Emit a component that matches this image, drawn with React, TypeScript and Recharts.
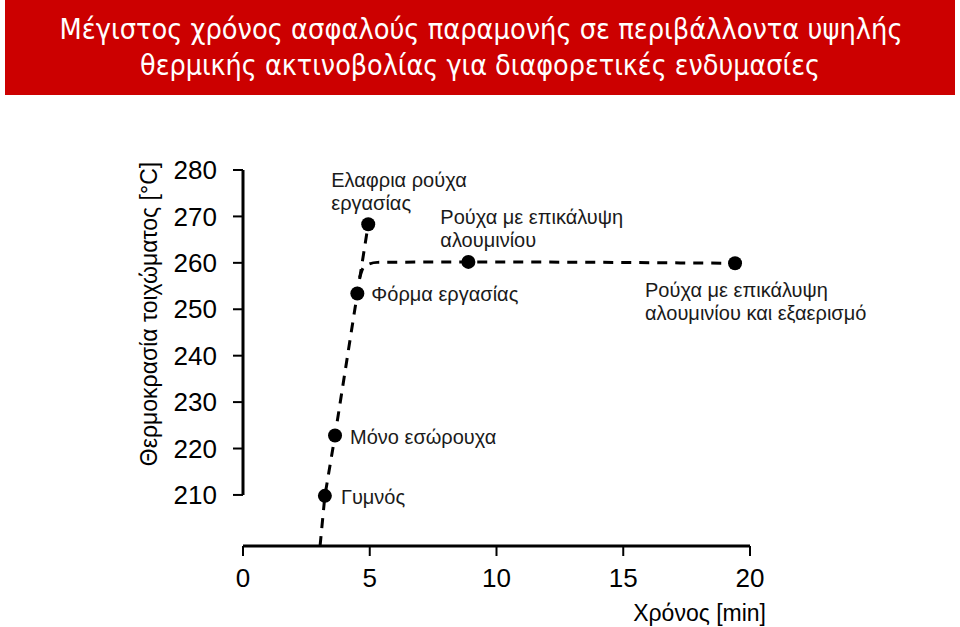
import React from "react";
import {
  ComposedChart,
  Line,
  Scatter,
  XAxis,
  YAxis,
  ReferenceLine,
} from "recharts";

// garments (label lines) and the measured points
const garmentLabels = [
  ["Γυμνός"],
  ["Μόνο εσώρουχα"],
  ["Φόρμα εργασίας"],
  ["Ελαφρια ρούχα", "εργασίας"],
  ["Ρούχα με επικάλυψη", "αλουμινίου"],
  ["Ρούχα με επικάλυψη", "αλουμινίου και εξαερισμό"],
];
const timeMin = [3.23, 3.63, 4.51, 4.94, 8.89, 19.41];
const wallTemp = [209.8, 222.8, 253.4, 268.3, 260.2, 259.9];

// dashed guide curves
const riseX = [3.04, 3.23, 3.63, 4.51, 4.94];
const riseY = [199, 209.8, 222.8, 253.4, 268.3];
const plateauX = [4.6, 4.78, 5.3, 8.89, 19.41];
const plateauY = [256.8, 259.2, 260.1, 260.2, 259.9];

const xTicks = [0, 5, 10, 15, 20];
const yTicks = [210, 220, 230, 240, 250, 260, 270, 280];

const titleLines = [
  "Μέγιστος χρόνος ασφαλούς παραμονής σε περιβάλλοντα υψηλής",
  "θερμικής ακτινοβολίας για διαφορετικές ενδυμασίες",
];

// label placement relative to each dot (px)
const labelPlacement = [
  { dx: 16, dy: [1] },
  { dx: 15, dy: [1] },
  { dx: 14, dy: [1] },
  { dx: -37, dy: [-44, -21] },
  { dx: -28, dy: [-45, -22] },
  { dx: -90, dy: [27, 50] },
];

const FONT = "'Liberation Sans', Arial, sans-serif";

const points = timeMin.map((x, i) => ({ x, y: wallTemp[i], idx: i }));
const riseData = riseX.map((x, i) => ({ x, y: riseY[i] }));
const plateauData = plateauX.map((x, i) => ({ x, y: plateauY[i] }));

const DotWithLabel = (props: any) => {
  const { cx, cy, payload } = props;
  const idx = payload.idx;
  const place = labelPlacement[idx];
  return (
    <g>
      <circle cx={cx} cy={cy} r={7} fill="#000" />
      {garmentLabels[idx].map((line, k) => (
        <text
          key={k}
          x={cx + place.dx}
          y={cy + place.dy[k]}
          dy="0.35em"
          fontSize={20}
          fontFamily={FONT}
          fill="#1a1a1a"
        >
          {line}
        </text>
      ))}
    </g>
  );
};

export default function App() {
  return (
    <div
      style={{
        position: "absolute",
        left: 0,
        top: 0,
        width: 960,
        height: 627,
        background: "#fff",
        overflow: "hidden",
      }}
    >
      <div
        style={{
          position: "absolute",
          left: 5,
          top: 0,
          width: 950,
          height: 95,
          background: "#cc0000",
        }}
      >
        <svg width={950} height={95}>
          {titleLines.map((t, i) => (
            <text
              key={i}
              x={i === 0 ? 476 : 475}
              y={i === 0 ? 39 : 75}
              textAnchor="middle"
              fontSize={28}
              fontFamily="'Liberation Sans Narrow', 'DejaVu Sans Condensed', 'Liberation Sans', sans-serif"
              fill="#fff"
              textLength={i === 0 ? 843 : 680}
              lengthAdjust="spacingAndGlyphs"
            >
              {t}
            </text>
          ))}
        </svg>
      </div>

      <div style={{ position: "absolute", left: 0, top: 0 }}>
        <ComposedChart
          width={960}
          height={627}
          margin={{ top: 170, right: 210, bottom: 0, left: 0 }}
        >
          <XAxis
            type="number"
            dataKey="x"
            domain={[0, 20]}
            ticks={xTicks}
            interval={0}
            height={81}
            axisLine={{ stroke: "#000", strokeWidth: 3 }}
            tickLine={{ stroke: "#000", strokeWidth: 2 }}
            tickSize={10}
            tickMargin={13}
            tick={{ fill: "#000", fontSize: 26, fontFamily: FONT }}
          />
          <YAxis
            type="number"
            dataKey="y"
            domain={[199, 280]}
            ticks={yTicks}
            interval={0}
            width={243}
            axisLine={false}
            tickLine={{ stroke: "#000", strokeWidth: 2 }}
            tickSize={10}
            tickMargin={16}
            tick={{ fill: "#000", fontSize: 26, fontFamily: FONT }}
          />
          <ReferenceLine
            segment={[
              { x: 0, y: 210 },
              { x: 0, y: 280 },
            ]}
            stroke="#000"
            strokeWidth={3}
          />
          <Line
            data={riseData}
            dataKey="y"
            type="linear"
            stroke="#000"
            strokeWidth={3}
            strokeDasharray="10 8"
            dot={false}
            activeDot={false}
            isAnimationActive={false}
          />
          <Line
            data={plateauData}
            dataKey="y"
            type="monotone"
            stroke="#000"
            strokeWidth={3}
            strokeDasharray="10 8"
            dot={false}
            activeDot={false}
            isAnimationActive={false}
          />
          <Scatter
            data={points}
            dataKey="y"
            shape={DotWithLabel}
            isAnimationActive={false}
          />
        </ComposedChart>
      </div>

      <svg
        width={960}
        height={627}
        style={{ position: "absolute", left: 0, top: 0, pointerEvents: "none" }}
      >
        <text
          x={157}
          y={314}
          transform="rotate(-90 157 314)"
          textAnchor="middle"
          fontSize={23}
          fontFamily={FONT}
          fill="#000"
        >
          Θερμοκρασία τοιχώματος [°C]
        </text>
        <text
          x={766}
          y={621}
          textAnchor="end"
          fontSize={23}
          fontFamily={FONT}
          fill="#000"
        >
          Χρόνος [min]
        </text>
      </svg>
    </div>
  );
}
